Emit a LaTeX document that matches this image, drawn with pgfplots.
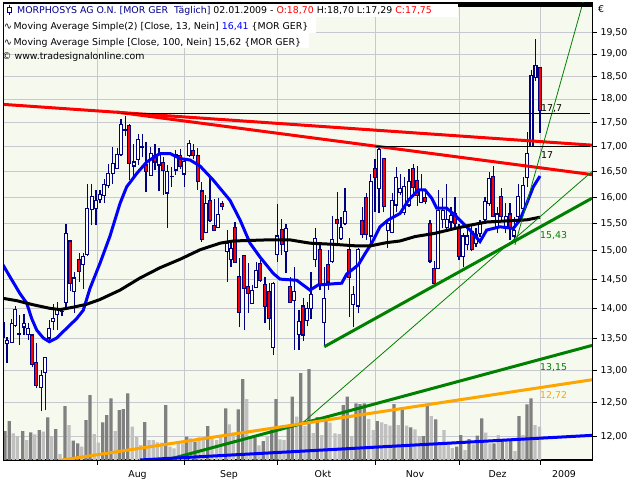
\documentclass[border=0pt]{standalone}
\usepackage{fontspec}
\setmainfont{DejaVu Sans}
\usepackage{pgfplots}
\usepackage{pgfplotstable}
\pgfplotsset{compat=1.18}
\definecolor{plotbg}{RGB}{246,249,238}
\definecolor{gridgray}{RGB}{200,200,208}
\definecolor{candleblue}{RGB}{0,0,128}
\definecolor{candlered}{RGB}{255,0,0}
\definecolor{mablue}{RGB}{0,0,255}
\definecolor{trgreen}{RGB}{0,128,0}
\definecolor{trorange}{RGB}{255,165,0}
\definecolor{voldark}{RGB}{128,128,128}
\definecolor{vollight}{RGB}{192,192,192}
\definecolor{hdrblue}{RGB}{0,0,140}

% daily candles: x = trading-day position, O H L C in EUR
\pgfplotstableread{
x O H L C
3 13.76 13.80 13.50 13.52
7 13.42 13.53 13.11 13.47
11.7 13.44 13.83 13.43 13.75
15.3 13.72 14.04 13.69 13.98
19.3 13.58 13.89 13.40 13.57
24 13.69 13.90 13.56 13.75
28.3 13.57 13.75 13.48 13.67
32.3 13.56 13.57 13.05 13.09
36.3 13.12 13.43 12.72 12.76
41.3 12.73 13.00 12.37 12.91
45.3 12.96 13.21 12.39 13.20
49.3 13.51 13.80 13.48 13.66
53.3 13.78 14.07 13.64 13.83
57.3 13.90 14.11 13.64 13.99
62 13.94 13.98 13.87 13.95
66 14.10 15.49 14.03 15.32
70.3 15.18 15.20 14.29 14.43
74.3 14.29 14.63 13.92 14.52
79.3 14.84 14.96 14.45 14.63
83.3 14.76 14.96 14.33 14.90
87.3 14.93 16.26 14.91 15.79
91.7 15.77 16.26 15.47 16.01
96 15.79 16.14 15.47 15.93
100 15.96 16.14 15.88 16.05
104.3 16.04 16.36 15.88 16.25
108.3 16.23 16.66 16.17 16.46
112.7 16.46 17.00 16.26 16.66
117.3 16.56 16.97 16.55 16.84
121 16.84 17.58 16.81 17.46
125.3 17.33 17.64 17.23 17.35
129.3 17.44 17.46 16.33 16.66
133.7 16.61 17.05 16.35 16.69
138.3 16.74 17.26 16.63 17.14
142.3 16.98 17.26 16.80 17.00
146 16.63 17.10 16.09 16.50
150.7 16.42 17.00 16.41 16.87
155 16.83 17.06 16.53 16.69
159 16.63 16.98 16.11 16.85
163.3 16.68 16.80 16.05 16.52
167.3 16.08 16.63 15.41 16.50
171.7 16.40 16.59 16.20 16.41
175.7 16.53 16.93 16.43 16.85
180.3 16.83 16.95 16.55 16.60
184.3 16.45 16.75 16.20 16.70
189.3 16.83 17.13 16.80 17.06
193.3 16.93 17.06 16.76 16.83
197.7 16.83 16.97 16.14 16.30
201.7 16.12 16.30 15.17 15.21
205.7 15.34 16.04 15.32 15.87
210 15.93 16.40 15.53 15.55
214.3 15.46 15.96 15.37 15.38
218.3 15.43 15.98 15.41 15.67
222.3 15.87 15.93 15.75 15.82
227.3 14.99 15.38 14.45 15.14
231 14.84 15.14 14.72 15.05
235 15.43 15.53 14.79 14.80
239.3 14.55 14.87 13.69 13.93
244.3 14.92 14.93 13.64 14.34
248.3 14.38 14.78 13.93 14.25
252.3 14.09 14.40 14.08 14.30
256.3 14.36 14.81 14.35 14.65
260.3 14.78 14.84 14.45 14.48
265 14.41 14.54 13.75 14.03
269.3 14.28 14.43 13.64 13.83
273.3 13.35 14.45 13.24 14.43
277.3 14.94 15.87 14.81 15.27
281.7 15.39 15.58 14.93 15.11
286 14.99 15.50 14.60 15.41
290.3 14.38 14.54 14.09 14.10
294.3 14.14 14.72 13.32 14.28
299 13.57 13.97 13.32 13.78
303.3 14.04 14.17 13.46 13.56
307.2 13.80 14.10 13.70 14.00
311 14.00 14.63 13.83 14.24
315.3 14.84 15.41 14.72 15.22
320 15.02 15.11 14.31 14.40
324.3 13.76 14.72 13.38 14.17
328.3 14.75 15.02 14.31 14.45
332.3 14.81 15.64 14.79 15.20
337.3 15.57 16.09 15.14 15.50
341 15.23 15.63 15.20 15.43
345 15.50 16.17 15.47 15.73
349.3 15.02 15.23 13.85 14.53
353.3 14.07 14.38 13.69 14.23
358.3 14.04 15.05 13.92 15.02
362.3 15.55 15.82 15.23 15.30
366.3 16.00 16.08 15.20 15.30
370.7 15.27 16.46 15.14 16.31
375 16.56 16.76 15.71 16.38
379 16.17 17.00 15.70 16.95
383.7 16.76 16.77 15.71 15.83
387.7 15.37 15.56 15.05 15.50
392.3 15.34 16.08 15.32 15.94
396.3 15.85 16.59 15.71 16.38
400.3 16.09 16.46 16.04 16.17
404.3 15.70 16.40 15.66 16.21
409 15.85 16.56 15.82 16.31
413.3 16.56 16.65 16.08 16.18
417.3 16.33 16.61 15.83 16.04
421.3 15.90 16.46 15.88 16.14
425.3 16.00 16.08 15.86 15.91
430 15.50 15.56 14.79 14.82
434.3 14.69 14.82 14.37 14.43
438.3 14.69 16.14 14.67 15.75
442.7 15.57 15.98 15.41 15.75
446.7 15.43 16.26 15.35 15.57
451 15.53 15.82 15.38 15.66
455 15.68 16.01 15.38 15.50
459 15.43 15.50 14.84 14.90
463.3 14.90 15.32 14.72 15.27
467.3 15.11 15.41 15.02 15.27
471.7 15.36 15.45 14.99 15.02
476 15.14 15.42 15.07 15.29
480 15.32 15.56 15.25 15.50
485 15.57 16.01 15.50 15.91
489.3 15.87 16.50 15.84 16.36
493.3 16.40 16.61 15.62 15.63
497.3 15.44 15.82 15.32 15.68
501.3 16.01 16.17 15.57 15.63
505.7 15.44 15.88 15.32 15.63
510 15.68 15.88 15.20 15.41
514.3 15.27 15.63 15.17 15.38
518.3 15.63 16.26 15.57 16.01
523.3 15.79 16.40 15.75 16.23
527.3 16.38 17.30 16.20 16.86
531.5 17.01 18.64 17.00 18.52
535.5 18.48 19.34 18.40 18.74
540 18.70 18.70 17.29 17.75
}\candles

\pgfplotstableread{
x v
5 29
9.3 39
22.7 29
30.7 27.7
39.3 30
47.7 42.7
55.7 31
65 54
73.3 19.3
77.7 16.7
86 40
90 65
102.7 37.7
106.7 45
111 61.7
119.3 50
123.3 51
127.7 66.7
144.7 38
165.7 55
186.7 23.3
195 18.3
207.7 34
225.7 51.7
238.3 50.7
242.7 81
255 22.7
263.3 19
271.7 30.7
276 61
288.3 31.7
292.3 63.3
300.7 87
309 91
317.3 43
326 40.7
343.3 55
347.3 63.3
356 56.7
360 56
364.3 56.7
377.3 39
394 56
402.3 51.7
410.7 32.7
423.3 24
427.3 54.3
435.7 40.7
456.7 13.3
460.7 25
469 21
477.3 24.3
481.7 41.7
494 16.7
502.3 19
510.7 19
519 44
527 55.7
531 61.7
}\voldarktab

\pgfplotstableread{
x v
13.3 26.7
17.3 24
26.7 20
34.7 25.7
43.3 28.3
51.7 24
60 6
69 35
81.7 13.3
94.3 26
98.3 17.3
115.3 29
132.3 33.3
136.7 23.3
140.7 15
149 20
153.3 20
157.3 17.7
161.7 17.3
170 13.3
174 11.7
178.3 16.7
182.7 16.7
190.7 21.7
199 22.7
203.3 21.7
212 22.7
216.7 20
220.7 23.3
229.3 35.7
233.3 27.3
246.7 61
250.7 23.3
259 14.7
267.3 23.3
280 20.7
284 20
296.7 43.3
305 34
313.3 27
321.7 25
330 37.3
335 26.7
339.3 26
351.7 24
368.7 41
373.3 30
381.7 37.7
385.7 36
390 34.3
398.3 35
406.7 34.3
415 30.7
419.3 24
431.3 44
440 16.7
444 30
448.3 17.3
452.3 12
465 10
473.3 15.7
485.7 27.3
490 16.7
498.3 25
506.7 19
515 9
523 25
535 35
539.5 33.3
}\vollighttab

\pgfplotstableread{
x y
3 14.75
10 14.54
20 14.25
26.7 14.09
31.7 13.83
36.7 13.64
43.3 13.51
49.3 13.45
56.7 13.51
66.7 13.67
76.7 13.83
83.3 13.97
90 14.34
100 14.78
110 15.27
120 15.88
126.7 16.20
136.7 16.46
146.7 16.69
160 16.86
170 16.86
180 16.76
190 16.73
200 16.61
213.3 16.33
230 15.94
240 15.57
250 15.14
260 14.89
273.3 14.60
280 14.50
296.7 14.48
310 14.31
318.3 14.40
341.7 14.43
346.7 14.59
358.3 14.75
365 14.95
371.7 15.14
380 15.44
388.3 15.57
400 15.69
408.3 15.94
418.3 16.14
425 16.14
431.7 15.98
436.7 15.79
446.7 15.79
455 15.66
463.3 15.50
470 15.38
480 15.17
486.7 15.38
500 15.44
513.3 15.41
520 15.57
526.7 15.88
533.3 16.20
540 16.41
}\maA

\pgfplotstableread{
x y
3 14.17
16.7 14.13
33.3 14.06
50 14.00
60 13.98
73.3 14.02
86.7 14.07
100 14.15
110 14.23
120 14.31
140 14.52
160 14.70
180 14.85
200 15.02
220 15.14
233.3 15.18
266.7 15.20
290 15.20
310 15.14
333.3 15.12
356.7 15.09
370 15.09
386.7 15.15
400 15.18
415 15.26
435 15.32
455 15.41
470 15.47
486.7 15.53
526.7 15.57
540 15.62
}\maB

\begin{document}
\begin{tikzpicture}
\fill[white] (0pt,0pt) rectangle (640pt,-480pt);
\path[use as bounding box] (0pt,0pt) rectangle (640pt,-480pt);

% base axis: background, grid, ticks
\begin{axis}[
  at={(3pt,-3pt)}, anchor=north west,
  scale only axis, width=589pt, height=457pt,
  xmin=3, xmax=592, ymode=log, ymin=11.67, ymax=20.2,
  axis background/.style={fill=plotbg},
  axis line style={black, line width=1pt},
  grid=major, grid style={gridgray, line width=1pt},
  tick align=outside, major tick length=5pt, minor tick length=0pt,
  tick style={black, line width=0.8pt},
  xtick pos=left, ytick pos=right, yticklabel pos=right,
  xtick={97,184,277,375,459,540},
  xticklabels={{},{},{},{},{},{}},
  extra x ticks={137.5,229,323,415,497.5,564},
  extra x tick labels={Aug,Sep,Okt,Nov,Dez,2009},
  extra x tick style={major tick length=0pt, grid=none,
     xticklabel style={yshift=-7pt}},
  ytick={12,12.5,13,13.5,14,14.5,15,15.5,16,16.5,17,17.5,18,18.5,19,19.5},
  yticklabels={{12,00},{12,50},{13,00},{13,50},{14,00},{14,50},{15,00},{15,50},{16,00},{16,50},{17,00},{17,50},{18,00},{18,50},{19,00},{19,50}},
  ticklabel style={font=\fontsize{9.4}{10}\selectfont},
]
\addplot[draw=none, forget plot] coordinates {(3,12) (592,19)};
\end{axis}

% volume
\begin{axis}[
  at={(3pt,-3pt)}, anchor=north west,
  scale only axis, width=589pt, height=457pt,
  xmin=3, xmax=592, ymin=0, ymax=457, hide axis]
\addplot[ybar, bar width=3.3pt, bar shift=0pt, fill=voldark, draw=none] table[x=x,y=v]{\voldarktab};
\addplot[ybar, bar width=3.3pt, bar shift=0pt, fill=vollight, draw=none] table[x=x,y=v]{\vollighttab};
\end{axis}

% price
\begin{axis}[
  at={(3pt,-3pt)}, anchor=north west,
  scale only axis, width=589pt, height=457pt,
  xmin=3, xmax=592, ymode=log, ymin=11.67, ymax=20.2, hide axis]
\pgfplotstablegetrowsof{\candles}
\pgfmathtruncatemacro\lastrow{\pgfplotsretval-1}
\pgfplotsforeachungrouped \i in {0,...,\lastrow}{%
  \pgfplotstablegetelem{\i}{x}\of\candles \let\cx\pgfplotsretval
  \pgfplotstablegetelem{\i}{O}\of\candles \let\cO\pgfplotsretval
  \pgfplotstablegetelem{\i}{H}\of\candles \let\cH\pgfplotsretval
  \pgfplotstablegetelem{\i}{L}\of\candles \let\cL\pgfplotsretval
  \pgfplotstablegetelem{\i}{C}\of\candles \let\cC\pgfplotsretval
  \pgfmathsetmacro\xa{\cx-1.5}%
  \pgfmathsetmacro\xb{\cx+1.5}%
  \pgfmathtruncatemacro\down{\cC<\cO}%
  \ifnum\down=1 \def\bodyfill{candlered}\else\def\bodyfill{white}\fi
  \edef\doplot{%
    \noexpand\addplot[candleblue, line width=1.1pt, forget plot] coordinates {(\cx,\cL) (\cx,\cH)};
    \noexpand\addplot[draw=candleblue, fill=\bodyfill, line width=1.1pt, forget plot] coordinates {(\xa,\cO) (\xb,\cO) (\xb,\cC) (\xa,\cC)} -- cycle;
  }\doplot
}
% moving averages
\addplot[mablue, line width=3pt] table[x=x,y=y]{\maA};
\addplot[black, line width=3pt] table[x=x,y=y]{\maB};
% trend lines
\addplot[candlered, line width=3pt] coordinates {(0,17.89) (592,17.03)};
\addplot[candlered, line width=3pt] coordinates {(117,17.72) (592,16.44)};
\addplot[trgreen, line width=3pt] coordinates {(324.3,13.37) (592,15.98)};
\addplot[trgreen, line width=3pt] coordinates {(172,11.69) (592,13.39)};
\addplot[trgreen, line width=0.8pt] coordinates {(300,12.17) (592,16.50)};
\addplot[trgreen, line width=0.8pt] coordinates {(515,15.11) (584,20.3)};
\addplot[trorange, line width=3pt] coordinates {(58,11.66) (592,12.85)};
\addplot[mablue, line width=3pt] coordinates {(140,11.67) (592,12.02)};
\addplot[black, line width=1pt] coordinates {(121,17.7) (590,17.7)};
\addplot[black, line width=1pt] coordinates {(375,17) (590,17)};
\addplot[black, line width=3pt] coordinates {(425,20.15) (592,20.15)};
\end{axis}

% frame
\draw[black, line width=1pt] (3pt,-3pt) rectangle (592pt,-460pt);

% line labels
\begin{scope}[font=\fontsize{9.4}{10}\selectfont]
\node[anchor=base west, inner sep=0pt] at (541pt,-111pt) {17,7};
\node[anchor=base west, inner sep=0pt] at (541pt,-158pt) {17};
\node[anchor=base west, inner sep=0pt, text=trgreen] at (540pt,-238pt) {15,43};
\node[anchor=base west, inner sep=0pt, text=trgreen] at (540pt,-370pt) {13,15};
\node[anchor=base west, inner sep=0pt, text=trorange] at (540pt,-398pt) {12,72};
\node[anchor=base west, inner sep=0pt] at (598pt,-12pt) {€};

% header
\fill[white] (3.5pt,-3.5pt) rectangle (458pt,-17pt);
\fill[white] (3.5pt,-17pt) rectangle (316pt,-33pt);
\fill[white] (3.5pt,-33pt) rectangle (309pt,-48pt);
\draw[hdrblue, line width=0.8pt] (9pt,-4.5pt) -- (9pt,-15pt);
\draw[hdrblue, fill=white, line width=0.8pt] (7pt,-7pt) rectangle (11pt,-12.5pt);
\node[anchor=base west, inner sep=0pt] at (17pt,-13.5pt) {\textcolor{hdrblue}{MORPHOSYS AG O.N. [MOR GER\ \ Täglich]} 02.01.2009 - \textcolor{candlered}{O:18,70} H:18,70 L:17,29 \textcolor{candlered}{C:17,75}};
\node[anchor=base west, inner sep=0pt] at (4pt,-29.3pt) {∿\,Moving Average Simple(2) [Close, 13, Nein] \textcolor{mablue}{16,41} \{MOR GER\}};
\node[anchor=base west, inner sep=0pt] at (4pt,-45pt) {∿\,Moving Average Simple [Close, 100, Nein] 15,62 \{MOR GER\}};
\node[anchor=base west, inner sep=0pt] at (2pt,-59.5pt) {© www.tradesignalonline.com};
\end{scope}
\end{tikzpicture}
\end{document}
